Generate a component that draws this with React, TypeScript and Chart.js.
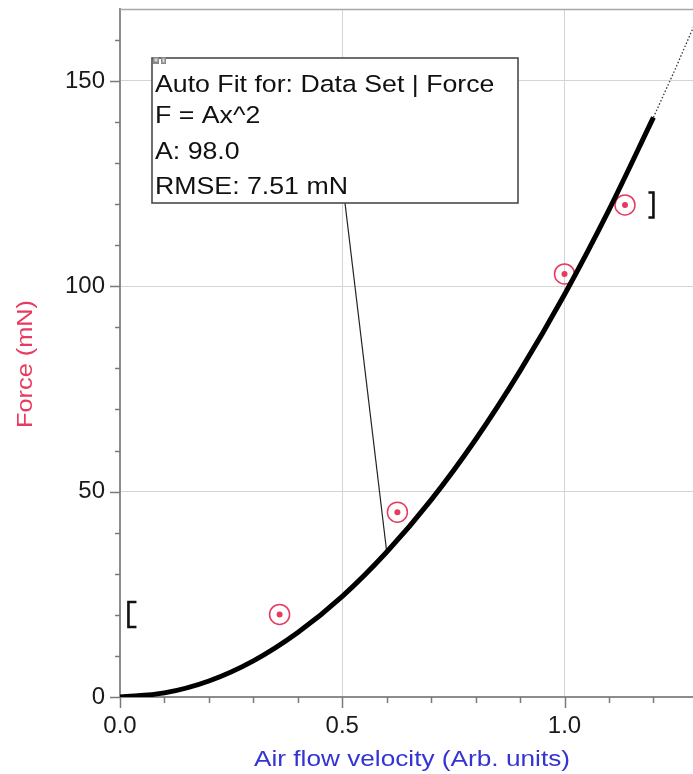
import React, { useEffect, useRef } from 'react';
import { Chart, registerables } from 'chart.js';

Chart.register(...registerables);

const MEASURED_X = [0.359, 0.624, 1.0, 1.136];
const MEASURED_Y = [20.1, 45.0, 103.0, 119.8];

// Fit curve F = A x^2 (A = 98.0)
const FIT_X = [0, 0.1, 0.2, 0.3, 0.4, 0.5, 0.6, 0.7, 0.8, 0.9, 1.0, 1.1, 1.2];
const FIT_Y = [0, 1.0, 3.9, 8.8, 15.7, 24.5, 35.3, 48.0, 62.7, 79.4, 98.0, 118.6, 141.1];

// Dotted extrapolation beyond the fitted range
const EXTRAP_X = [1.2, 1.25, 1.3];
const EXTRAP_Y = [141.1, 153.1, 165.6];

// Axis ranges and ticks
const X_MIN = 0;
const X_MAX = 1.289;
const Y_MIN = 0;
const Y_MAX = 167.5;
const X_STEP = 0.1;
const Y_STEP = 10;
const X_MAJOR = 0.5;
const Y_MAJOR = 50;

// Texts
const FIT_LINES = ['Auto Fit for: Data Set | Force', 'F = Ax^2', 'A: 98.0', 'RMSE: 7.51 mN'];
const X_TITLE = 'Air flow velocity (Arb. units)';
const Y_TITLE = 'Force (mN)';

// Range brackets and leader anchor (data coordinates)
const RANGE_START = [0.01, 20.1];
const RANGE_END = [1.2, 119.8];
const LEADER_ANCHOR = [0.6, 35.3];

const FONT = '"Liberation Sans", Arial, Helvetica, sans-serif';
const RED = '#e8395f';
const BLUE = '#3434d2';

const isMajor = (v: number, step: number) => Math.abs(v / step - Math.round(v / step)) < 1e-6;

function drawStretched(ctx: CanvasRenderingContext2D, text: string, x: number, y: number, sx: number) {
  ctx.save();
  ctx.translate(x, y);
  ctx.scale(sx, 1);
  ctx.fillText(text, 0, 0);
  ctx.restore();
}

const decor = {
  id: 'decor',
  beforeDatasetsDraw(chart: any) {
    const { ctx, chartArea: a, scales } = chart;
    const xs = scales.x;
    const ys = scales.y;
    ctx.save();
    // top frame line
    ctx.strokeStyle = '#a8a8a8';
    ctx.lineWidth = 1.5;
    ctx.beginPath();
    ctx.moveTo(a.left, a.top + 0.5);
    ctx.lineTo(a.right, a.top + 0.5);
    ctx.stroke();

    // leader line from box to the curve
    const lx = xs.getPixelForValue(LEADER_ANCHOR[0]);
    const ly = ys.getPixelForValue(LEADER_ANCHOR[1]);
    const bx = a.left + 32;
    const by = a.top + 49;
    const bw = 366;
    const bh = 145;
    ctx.strokeStyle = '#222';
    ctx.lineWidth = 1.2;
    ctx.beginPath();
    ctx.moveTo(bx + 193, by + bh);
    ctx.lineTo(lx, ly);
    ctx.stroke();

    // annotation box
    ctx.fillStyle = '#ffffff';
    ctx.fillRect(bx, by, bw, bh);
    ctx.strokeStyle = '#4a4a4a';
    ctx.lineWidth = 1.6;
    ctx.strokeRect(bx, by, bw, bh);

    // small icons at the corner
    ctx.fillStyle = '#8a8a8a';
    ctx.fillRect(bx + 1, by - 1, 6, 7);
    ctx.fillRect(bx + 9, by - 1, 5, 7);
    ctx.fillStyle = '#d8d8d8';
    ctx.fillRect(bx + 2.5, by + 0.5, 3, 3);
    ctx.fillRect(bx + 10.5, by + 0.5, 2, 4);

    // text
    ctx.fillStyle = '#111';
    ctx.font = `24.5px ${FONT}`;
    ctx.textAlign = 'left';
    ctx.textBaseline = 'alphabetic';
    const baselines = [92, 123, 159, 194];
    FIT_LINES.forEach((t, i) => drawStretched(ctx, t, bx + 3, baselines[i], 1.09));
    ctx.restore();
  },
  afterDraw(chart: any) {
    const { ctx, chartArea: a, scales } = chart;
    const xs = scales.x;
    const ys = scales.y;
    ctx.save();
    // tick marks
    ctx.strokeStyle = '#7a7a7a';
    ctx.lineWidth = 1.5;
    xs.ticks.forEach((t: any) => {
      const px = Math.round(xs.getPixelForValue(t.value)) + 0.5;
      const len = isMajor(t.value, X_MAJOR) ? 11 : 6;
      ctx.beginPath();
      ctx.moveTo(px, a.bottom);
      ctx.lineTo(px, a.bottom + len);
      ctx.stroke();
    });
    ys.ticks.forEach((t: any) => {
      const py = Math.round(ys.getPixelForValue(t.value)) + 0.5;
      const len = isMajor(t.value, Y_MAJOR) ? 10 : 5;
      ctx.beginPath();
      ctx.moveTo(a.left - len, py);
      ctx.lineTo(a.left, py);
      ctx.stroke();
    });

    // range brackets
    ctx.strokeStyle = '#111';
    ctx.lineWidth = 2.6;
    const sx = xs.getPixelForValue(RANGE_START[0]) + 4;
    const sy = ys.getPixelForValue(RANGE_START[1]);
    ctx.beginPath();
    ctx.moveTo(sx + 8, sy - 12.5);
    ctx.lineTo(sx, sy - 12.5);
    ctx.lineTo(sx, sy + 12.5);
    ctx.lineTo(sx + 8, sy + 12.5);
    ctx.stroke();
    const ex = xs.getPixelForValue(RANGE_END[0]);
    const ey = ys.getPixelForValue(RANGE_END[1]);
    ctx.beginPath();
    ctx.moveTo(ex - 5, ey - 12.5);
    ctx.lineTo(ex, ey - 12.5);
    ctx.lineTo(ex, ey + 12.5);
    ctx.lineTo(ex - 5, ey + 12.5);
    ctx.stroke();

    // axis titles
    ctx.textAlign = 'center';
    ctx.textBaseline = 'alphabetic';
    ctx.font = `22px ${FONT}`;
    ctx.fillStyle = BLUE;
    const xw = ctx.measureText(X_TITLE).width;
    drawStretched(ctx, X_TITLE, 412, 766, 316 / xw);

    ctx.fillStyle = RED;
    const yw = ctx.measureText(Y_TITLE).width;
    ctx.save();
    ctx.translate(26, 364);
    ctx.rotate(-Math.PI / 2);
    ctx.scale(128 / yw, 1);
    ctx.textBaseline = 'middle';
    ctx.fillText(Y_TITLE, 0, 0);
    ctx.restore();
    ctx.restore();
  },
};

const zeroPad = (s: any) => {
  s.paddingTop = 0;
  s.paddingBottom = 0;
  s.paddingLeft = 0;
  s.paddingRight = 0;
};

export default function App() {
  const ref = useRef<HTMLCanvasElement | null>(null);
  useEffect(() => {
    if (!ref.current) return;
    const toPts = (xs: number[], ys: number[]) => xs.map((x, i) => ({ x, y: ys[i] }));
    const chart = new Chart(ref.current, {
      type: 'scatter',
      data: {
        datasets: [
          {
            label: 'Fit',
            data: toPts(FIT_X, FIT_Y),
            showLine: true,
            borderColor: '#000',
            borderWidth: 5,
            pointRadius: 0,
            cubicInterpolationMode: 'monotone',
            borderCapStyle: 'butt',
          } as any,
          {
            label: 'Extrapolation',
            data: toPts(EXTRAP_X, EXTRAP_Y),
            showLine: true,
            borderColor: '#333',
            borderWidth: 1.3,
            borderDash: [1.5, 2],
            pointRadius: 0,
          } as any,
          {
            label: 'Data Set ring',
            data: toPts(MEASURED_X, MEASURED_Y),
            pointRadius: 10,
            pointBorderWidth: 1.5,
            pointBorderColor: RED,
            pointBackgroundColor: 'rgba(0,0,0,0)',
          } as any,
          {
            label: 'Data Set',
            data: toPts(MEASURED_X, MEASURED_Y),
            pointRadius: 3,
            pointBorderWidth: 0,
            pointBackgroundColor: RED,
          } as any,
        ],
      },
      options: {
        animation: false,
        responsive: false,
        maintainAspectRatio: false,
        layout: { autoPadding: false, padding: { top: 9, right: 0, left: 0, bottom: 0 } },
        plugins: { legend: { display: false }, tooltip: { enabled: false } },
        scales: {
          x: {
            type: 'linear',
            min: X_MIN,
            max: X_MAX,
            afterFit: (s: any) => {
              s.height = 77;
              zeroPad(s);
            },
            border: { display: true, color: '#8c8c8c', width: 2 },
            grid: {
              drawTicks: false,
              lineWidth: 1,
              color: (c: any) =>
                c.tick && c.tick.value > 0 && isMajor(c.tick.value, X_MAJOR) ? '#d4d4d4' : 'rgba(0,0,0,0)',
            },
            ticks: {
              stepSize: X_STEP,
              includeBounds: false,
              autoSkip: false,
              maxRotation: 0,
              padding: 15,
              color: '#1a1a1a',
              font: { family: FONT, size: 24 },
              callback: (v: any) => (isMajor(Number(v), X_MAJOR) ? Number(v).toFixed(1) : ''),
            },
          },
          y: {
            type: 'linear',
            min: Y_MIN,
            max: Y_MAX,
            afterFit: (s: any) => {
              s.width = 120;
              zeroPad(s);
            },
            border: { display: true, color: '#8c8c8c', width: 2 },
            grid: {
              drawTicks: false,
              lineWidth: 1,
              color: (c: any) =>
                c.tick && c.tick.value > 0 && isMajor(c.tick.value, Y_MAJOR) ? '#d4d4d4' : 'rgba(0,0,0,0)',
            },
            ticks: {
              stepSize: Y_STEP,
              includeBounds: false,
              autoSkip: false,
              padding: 15,
              color: '#1a1a1a',
              font: { family: FONT, size: 24 },
              callback: (v: any) => (isMajor(Number(v), Y_MAJOR) ? String(Math.round(Number(v))) : ''),
            },
          },
        },
      } as any,
      plugins: [decor],
    });
    return () => chart.destroy();
  }, []);
  return (
    <div style={{ position: 'absolute', left: 0, top: 0, width: 693, height: 774, background: '#fff' }}>
      <canvas ref={ref} width={693} height={774} style={{ display: 'block' }} />
    </div>
  );
}
